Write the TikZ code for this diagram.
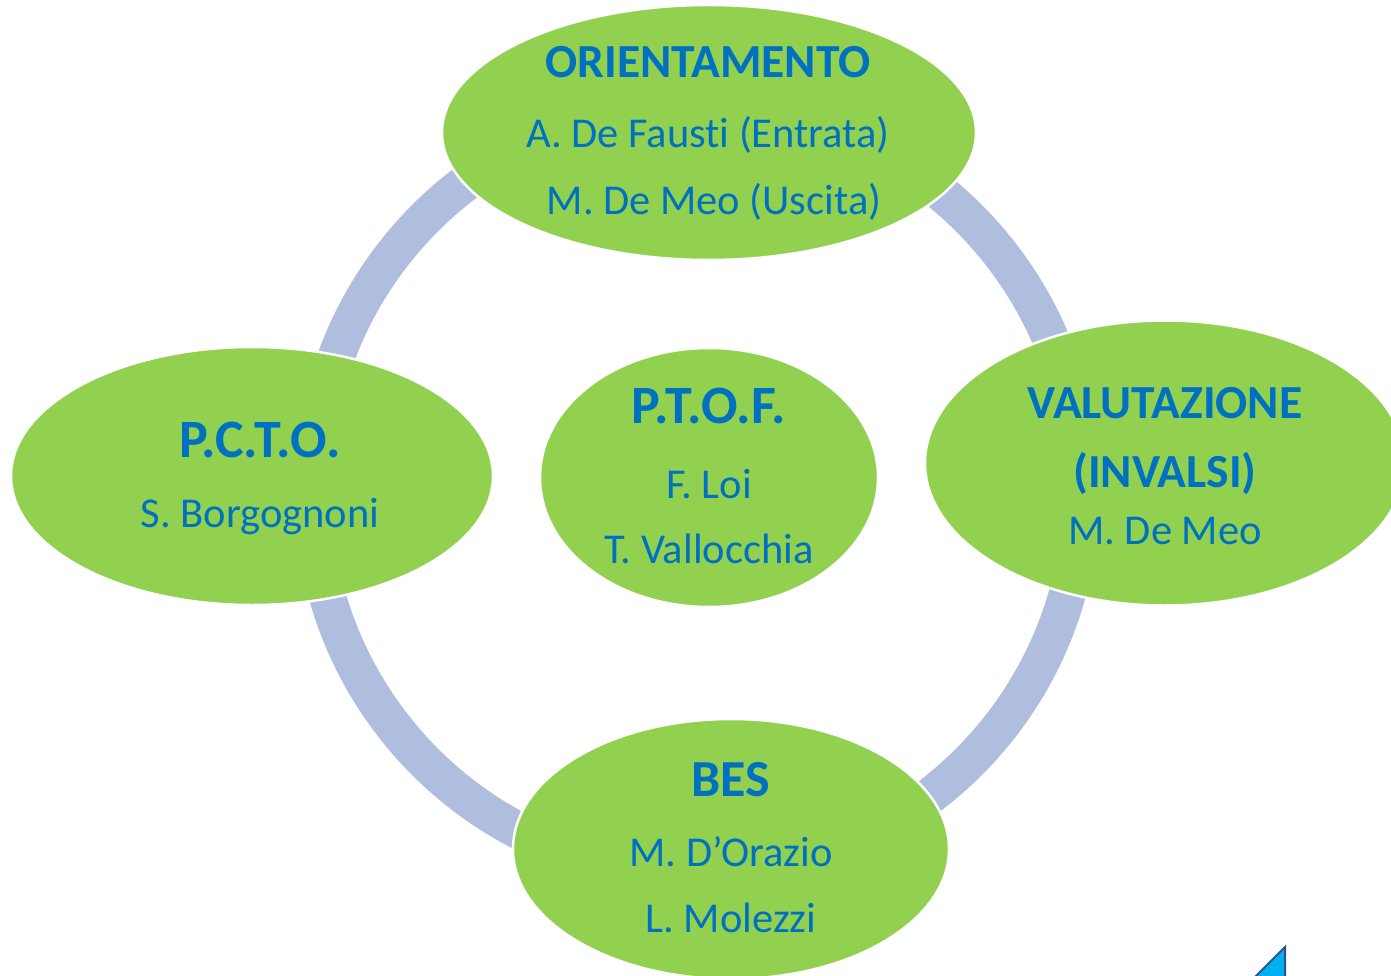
\documentclass[tikz,border=0pt]{standalone}
\usepackage{fontspec}
\setmainfont{Carlito}[Ligatures=NoCommon]
\usetikzlibrary{shapes.geometric}
\definecolor{leaf}{RGB}{146,208,80}
\definecolor{ringc}{RGB}{175,189,222}
\definecolor{txt}{RGB}{0,112,192}
\definecolor{tri}{RGB}{0,176,240}
\definecolor{triedge}{RGB}{47,82,143}
\begin{document}
\begin{tikzpicture}[x=1pt,y=-1pt,
  bubble/.style={ellipse, fill=leaf, draw=white, line width=2.5pt, inner sep=0pt},
  title/.style={anchor=base, text=txt, font=\fontsize{47.5}{47.5}\selectfont\bfseries, inner sep=0pt},
  bigtitle/.style={title, font=\fontsize{54}{54}\selectfont\bfseries},
  who/.style={anchor=base, text=txt, font=\fontsize{42.5}{42.5}\selectfont, inner sep=0pt}]
\clip (0,0) rectangle (1391,976);
\coordinate (hub) at (697,490);
\draw[ringc, line width=37pt] (hub) circle[radius=384.5];
\node[bubble, minimum width=534pt, minimum height=255pt] (top) at (709,132.5) {};
\node[bubble, minimum width=480pt, minimum height=285pt] (right) at (1165,463) {};
\node[bubble, minimum width=436pt, minimum height=260pt] (bottom) at (731,849) {};
\node[bubble, minimum width=482pt, minimum height=258pt] (left) at (252,476) {};
\node[bubble, minimum width=338pt, minimum height=259pt] (center) at (709,477.5) {};
% texts
\node[title] (t1) at (708,78) {ORIENTAMENTO};
\node[who] (t1a) at (708,148) {A. De Fausti (Entrata)};
\node[who] (t1b) at (714,215) {M. De Meo (Uscita)};
\node[title] (t2) at (1165,418) {VALUTAZIONE};
\node[title] (t2a) at (1165,487) {(INVALSI)};
\node[who] (t2b) at (1165,544) {M. De Meo};
\node[bigtitle, font=\fontsize{52}{52}\selectfont\bfseries] (t3) at (731,796) {BES};
\node[who] (t3a) at (731,866) {M. D’Orazio};
\node[who] (t3b) at (731,932) {L. Molezzi};
\node[bigtitle] (t4) at (260,457) {P.C.T.O.};
\node[who] (t4a) at (260,527) {S. Borgognoni};
\node[bigtitle] (t5) at (709,423) {P.T.O.F.};
\node[who] (t5a) at (709,498) {F. Loi};
\node[who] (t5b) at (709,563) {T. Vallocchia};
% corner mark
\filldraw[fill=tri, draw=triedge, line width=2pt] (1285,947) -- (1285,990) -- (1242,990) -- cycle;
\end{tikzpicture}
\end{document}
